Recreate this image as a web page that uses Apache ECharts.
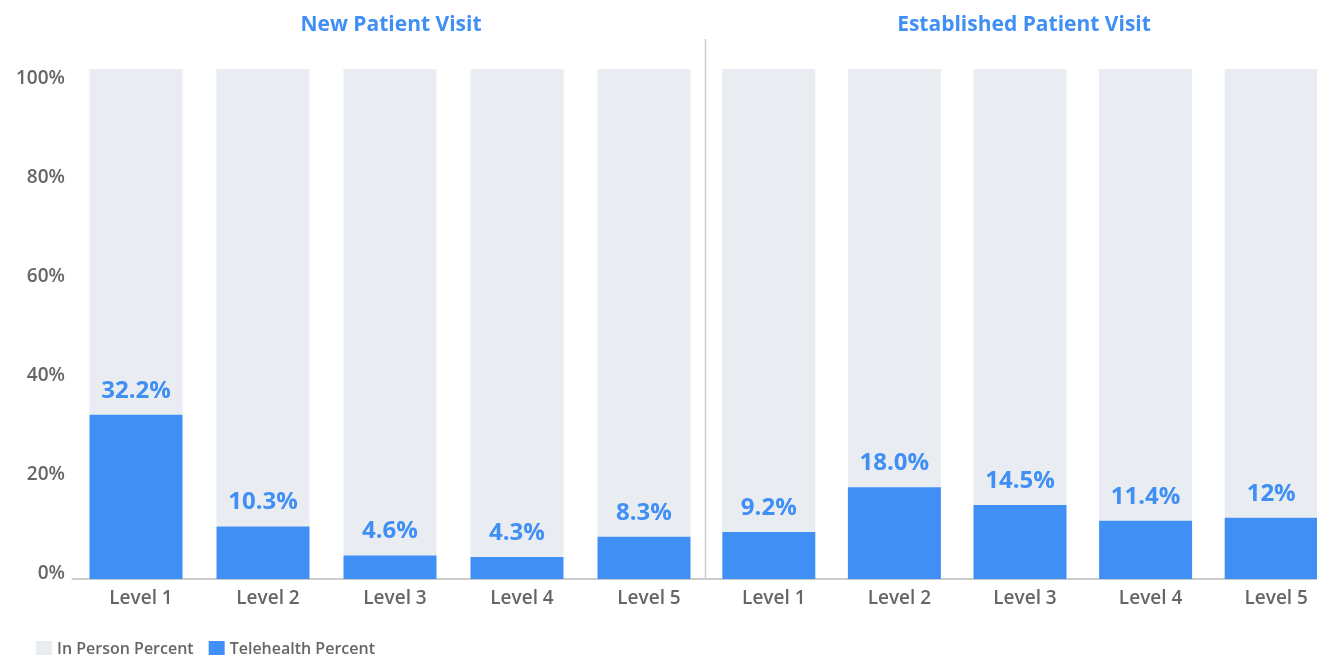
<!DOCTYPE html>
<html>
<head>
<meta charset="utf-8">
<script src="https://cdn.jsdelivr.net/npm/echarts@6/dist/echarts.min.js"></script>
<style>
  html, body { margin: 0; padding: 0; background: #fff; }
  #chart { width: 1317px; height: 655px; }
</style>
</head>
<body>
<div id="chart"></div>
<script>
// 数据
var levels = ['Level 1', 'Level 2', 'Level 3', 'Level 4', 'Level 5']
var groupTitles = ['New Patient Visit', 'Established Patient Visit']
var newTele = [32.2, 10.3, 4.6, 4.3, 8.3]
var newTeleLabels = ['32.2%', '10.3%', '4.6%', '4.3%', '8.3%']
var estTele = [9.2, 18.0, 14.5, 11.4, 12]
var estTeleLabels = ['9.2%', '18.0%', '14.5%', '11.4%', '12%']
var yTicks = [0, 20, 40, 60, 80, 100]

var BLUE = '#3f8ff5'
var GREY = '#e9ecf1'
var FONT = '"Open Sans", "Noto Sans", sans-serif'

function rest (arr) {
  return arr.map(function (v) { return +(100 - v).toFixed(1) })
}

function teleSeries (idx, data, labels) {
  return {
    name: 'Telehealth Percent',
    type: 'bar',
    xAxisIndex: idx,
    yAxisIndex: idx,
    stack: 'g' + idx,
    barWidth: 93,
    data: data,
    itemStyle: { color: BLUE },
    label: {
      show: true,
      position: 'top',
      distance: 12,
      color: BLUE,
      fontSize: 24,
      fontWeight: 'bold',
      fontFamily: FONT,
      formatter: function (p) { return labels[p.dataIndex] }
    },
    z: 3
  }
}

function personSeries (idx, data) {
  return {
    name: 'In Person Percent',
    type: 'bar',
    xAxisIndex: idx,
    yAxisIndex: idx,
    stack: 'g' + idx,
    barWidth: 93,
    data: rest(data),
    itemStyle: { color: GREY },
    z: 2
  }
}

function catAxis (idx) {
  return {
    type: 'category',
    gridIndex: idx,
    data: levels,
    axisTick: { show: false },
    axisLine: { lineStyle: { color: '#cccccc', width: 2 } },
    axisLabel: {
      color: '#666666',
      fontSize: 19,
      fontWeight: 600,
      fontFamily: FONT,
      margin: 10,
      padding: [0, 0, 0, 10]
    }
  }
}

function valAxis (idx) {
  return {
    type: 'value',
    gridIndex: idx,
    min: 0,
    max: 100,
    interval: 20,
    axisLine: { show: false },
    axisTick: { show: false },
    axisLabel: { show: false },
    splitLine: { show: false }
  }
}

var chart = echarts.init(document.getElementById('chart'))
chart.setOption({
  animation: false,
  title: [
    {
      text: groupTitles[0],
      left: 386,
      top: 10,
      textAlign: 'center',
      textStyle: { color: BLUE, fontSize: 21, fontWeight: 'bold', fontFamily: FONT }
    },
    {
      text: groupTitles[1],
      left: 1019,
      top: 10,
      textAlign: 'center',
      textStyle: { color: BLUE, fontSize: 21, fontWeight: 'bold', fontFamily: FONT }
    }
  ],
  legend: {
    left: 31,
    top: 636,
    itemWidth: 16,
    itemHeight: 16,
    itemGap: 15,
    icon: 'rect',
    data: ['In Person Percent', 'Telehealth Percent'],
    textStyle: { color: '#666666', fontSize: 16, fontWeight: 600, fontFamily: FONT }
  },
  grid: [
    { left: 72.5, width: 635, top: 69, bottom: 76, outerBoundsMode: 'none' },
    // 右边的网格超出画布一点，最后一根柱子被截掉
    { left: 706, width: 628, top: 69, bottom: 76, outerBoundsMode: 'none' },
    // 只用来放 y 轴刻度文字
    { left: 73, width: 10, top: 79, bottom: 81, outerBoundsMode: 'none' }
  ],
  xAxis: [catAxis(0), catAxis(1), { type: 'value', gridIndex: 2, show: false }],
  yAxis: [
    valAxis(0),
    valAxis(1),
    {
      type: 'value',
      gridIndex: 2,
      min: yTicks[0],
      max: yTicks[yTicks.length - 1],
      interval: yTicks[1] - yTicks[0],
      axisLine: { show: false },
      axisTick: { show: false },
      splitLine: { show: false },
      axisLabel: {
        color: '#666666',
        fontSize: 19,
        fontWeight: 600,
        fontFamily: FONT,
        margin: 8,
        formatter: '{value}%'
      }
    }
  ],
  graphic: [
    {
      type: 'line',
      shape: { x1: 705.5, y1: 39, x2: 705.5, y2: 579 },
      style: { stroke: '#cccccc', lineWidth: 1.5 },
      z: 10
    }
  ],
  series: [
    teleSeries(0, newTele, newTeleLabels),
    personSeries(0, newTele),
    teleSeries(1, estTele, estTeleLabels),
    personSeries(1, estTele)
  ]
})
</script>
</body>
</html>
